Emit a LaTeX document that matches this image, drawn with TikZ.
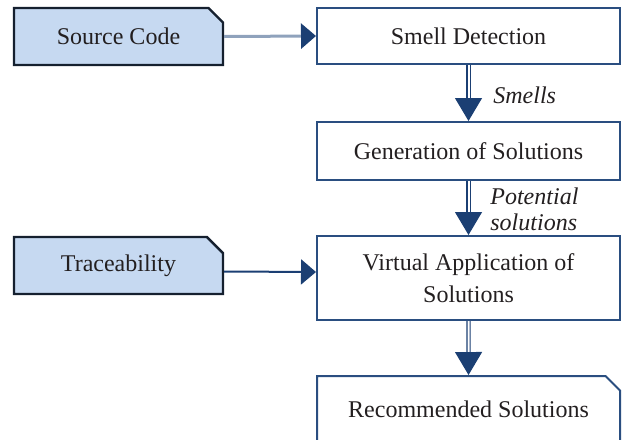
\documentclass[tikz,border=0pt]{standalone}
\usepackage{fontspec}
\setmainfont{Liberation Serif}
\usetikzlibrary{arrows.meta,shapes.misc}
\definecolor{infill}{HTML}{C6D9F1}
\definecolor{inedge}{HTML}{15202F}
\definecolor{boxedge}{HTML}{2A4E80}
\definecolor{navy}{HTML}{1B3F73}
\definecolor{greyblue}{HTML}{8FA2BC}
\definecolor{txt}{HTML}{231F20}
\begin{document}
\begin{tikzpicture}[x=0.5pt,y=-0.5pt,font=\fontsize{12}{16}\selectfont,text=txt]
        \tikzset{input box/.style={draw=inedge,fill=infill,line width=1.2pt,chamfered rectangle,chamfered rectangle corners=north east,chamfered rectangle xsep=5pt,minimum width=104.5pt,minimum height=28.5pt,inner sep=0pt},
                 stage box/.style={draw=boxedge,line width=1pt,minimum width=151.5pt,minimum height=#1,inner sep=0pt,align=center},
                 flow/.style={draw=navy,double=white,double distance=1pt,line width=0.6pt,-{Triangle[length=11.5pt,width=13.5pt,fill=navy,color=navy]}},
                 side label/.style={anchor=west,inner sep=0pt,font=\fontsize{12}{13}\selectfont\itshape,align=left}}
        \useasboundingbox (0,0) rectangle (624,439);
        \clip (0,0) rectangle (624,439);

        \node[input box] (code) at (118.5,36.5) {Source Code};
        \node[input box] (trace) at (118.5,265.5) {Traceability};

        \node[stage box=28pt] (detect) at (468.5,36) {Smell Detection};
        \node[stage box=29pt] (gen) at (468.5,151) {Generation of Solutions};
        \node[stage box=42pt] (virt) at (468.5,278) {Virtual Application of\\Solutions};
        \node[stage box=33pt,chamfered rectangle,chamfered rectangle corners=north east,chamfered rectangle xsep=5pt] (rec) at (468.5,409) {Recommended Solutions};

        \node[side label] (smells) at (493,95) {Smells};
        \node[side label] (potsol) at (490,209) {Potential\\solutions};

        \draw[greyblue,line width=1.5pt,-{Triangle[length=7.5pt,width=12.5pt,color=navy]}] (code.east) -- (detect.west);
        \draw[navy,line width=1pt,-{Triangle[length=7.5pt,width=12.5pt]}] ([yshift=-3pt]trace.east) -- ([yshift=3pt]virt.west);

        \draw[flow] (detect) -- (gen);
        \draw[flow] (gen) -- (virt);
        \draw[flow] (virt) -- (rec);
\end{tikzpicture}
\end{document}
